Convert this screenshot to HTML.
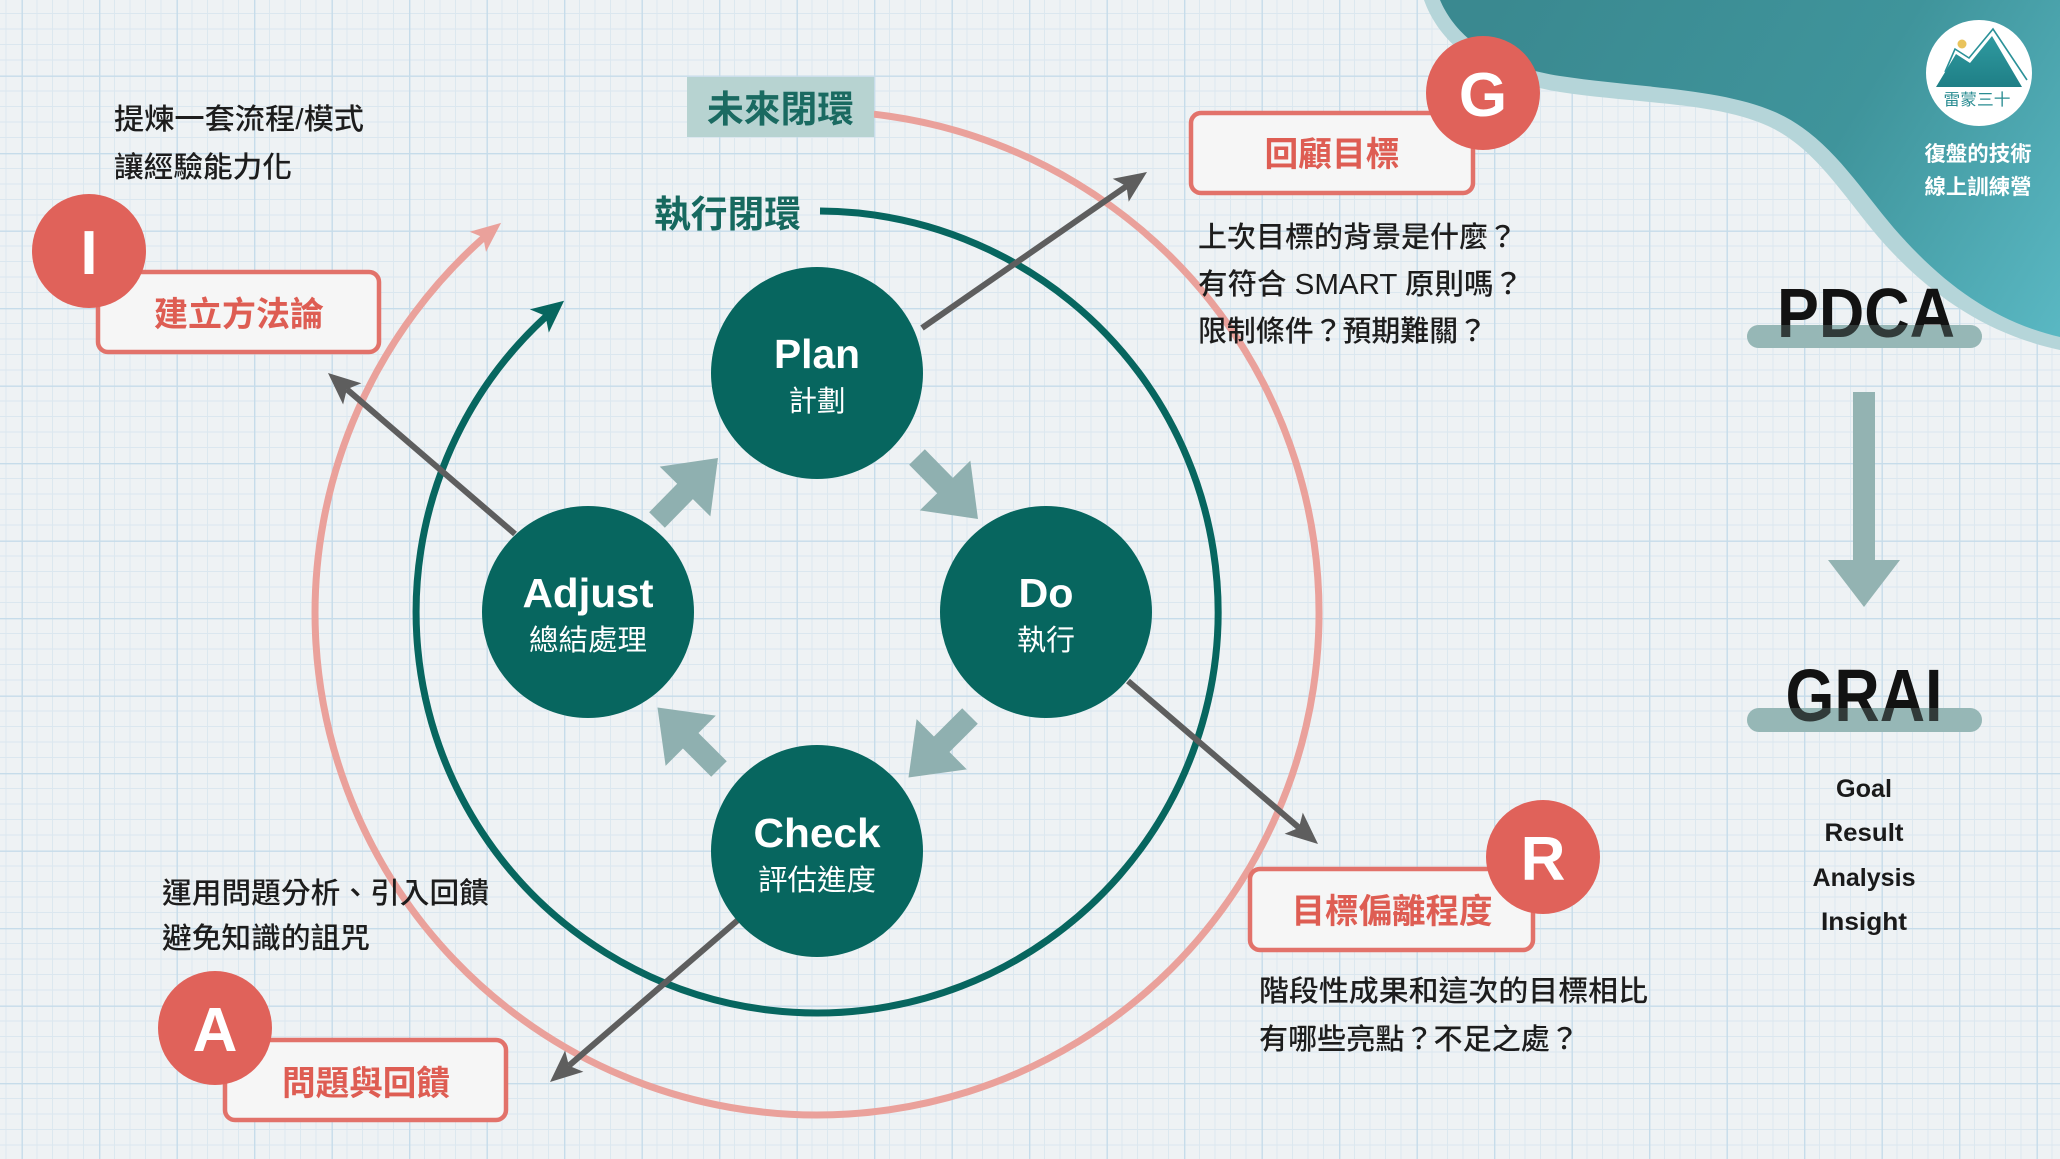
<!DOCTYPE html>
<html><head><meta charset="utf-8">
<style>
html,body{margin:0;padding:0;width:2060px;height:1159px;overflow:hidden;background:#eef2f4}
svg{display:block}
.cjk{font-family:"Liberation Sans","Noto Sans CJK TC",sans-serif}
.lat{font-family:"Liberation Sans",sans-serif}
</style></head>
<body>
<svg width="2060" height="1159" viewBox="0 0 2060 1159" xmlns="http://www.w3.org/2000/svg">
<defs>
  <pattern id="grid" patternUnits="userSpaceOnUse" x="21.5" y="-2" width="77.5" height="77.5">
    <rect width="77.5" height="77.5" fill="#eef2f4"/>
    <g stroke="#dbe7ef" stroke-width="0.9">
      <line x1="15.5" y1="0" x2="15.5" y2="77.5"/><line x1="31" y1="0" x2="31" y2="77.5"/>
      <line x1="46.5" y1="0" x2="46.5" y2="77.5"/><line x1="62" y1="0" x2="62" y2="77.5"/>
      <line y1="15.5" x1="0" y2="15.5" x2="77.5"/><line y1="31" x1="0" y2="31" x2="77.5"/>
      <line y1="46.5" x1="0" y2="46.5" x2="77.5"/><line y1="62" x1="0" y2="62" x2="77.5"/>
    </g>
    <g stroke="#c6dcea" stroke-width="1.4">
      <line x1="0.7" y1="0" x2="0.7" y2="77.5"/><line y1="0.7" x1="0" y2="0.7" x2="77.5"/>
    </g>
  </pattern>
  <linearGradient id="wave" x1="1500" y1="0" x2="2060" y2="340" gradientUnits="userSpaceOnUse">
    <stop offset="0" stop-color="#3a8990"/>
    <stop offset="0.55" stop-color="#3f949b"/>
    <stop offset="1" stop-color="#5ab8c3"/>
  </linearGradient>
  <linearGradient id="mtn" x1="0" y1="0" x2="0" y2="1">
    <stop offset="0" stop-color="#2f9aa0"/>
    <stop offset="1" stop-color="#1f7f86"/>
  </linearGradient>
</defs>

<rect width="2060" height="1159" fill="url(#grid)"/>

<!-- top-right wave -->
<path d="M1424,0 C1440,45 1485,80 1560,92 C1640,104 1715,102 1768,126 C1820,150 1848,205 1890,250 C1935,298 1990,335 2060,350 L2060,0 Z" fill="#b5d5d9"/>
<path d="M1440,0 C1455,35 1490,65 1560,76 C1640,88 1720,88 1775,112 C1830,136 1860,190 1900,235 C1945,285 1995,322 2060,337 L2060,0 Z" fill="url(#wave)"/>

<!-- logo -->
<circle cx="1979" cy="73" r="53" fill="#ffffff"/>
<polygon points="1936,87 1956,54 1970,63 1992,36 2022,87" fill="url(#mtn)"/>
<polyline points="1945,72 1955,49 1969,58 1993,29 2027,80" fill="none" stroke="#2a9198" stroke-width="1.6"/>
<circle cx="1962" cy="44" r="4.5" fill="#e9c35c"/>
<text class="cjk" x="1977" y="105" font-size="16" fill="#2a8c92" text-anchor="middle" textLength="67" lengthAdjust="spacingAndGlyphs">雷蒙三十</text>
<text class="cjk" x="1978" y="161" font-size="21" font-weight="700" fill="#ffffff" text-anchor="middle" textLength="107" lengthAdjust="spacingAndGlyphs">復盤的技術</text>
<text class="cjk" x="1978" y="194" font-size="21" font-weight="700" fill="#ffffff" text-anchor="middle" textLength="107" lengthAdjust="spacingAndGlyphs">線上訓練營</text>

<!-- PDCA / GRAI -->
<rect x="1747" y="325" width="235" height="23" rx="11.5" fill="#98b9b8"/>
<text class="lat" x="1866" y="337" font-size="70" font-weight="700" fill="#121212" text-anchor="middle" textLength="178" lengthAdjust="spacingAndGlyphs">PDCA</text>
<rect x="1747" y="325" width="235" height="23" rx="11.5" fill="#8fb2b1" opacity="0.25"/>
<rect x="1853" y="392" width="22" height="170" fill="#93b3b2"/>
<polygon points="1828,560 1900,560 1864,607" fill="#93b3b2"/>
<rect x="1747" y="708" width="235" height="24" rx="12" fill="#98b9b8"/>
<text class="lat" x="1864" y="721" font-size="74" font-weight="700" fill="#121212" text-anchor="middle" textLength="157" lengthAdjust="spacingAndGlyphs">GRAI</text>
<rect x="1747" y="708" width="235" height="24" rx="12" fill="#8fb2b1" opacity="0.25"/>
<g class="lat" font-size="25" font-weight="700" fill="#1a1a1a" text-anchor="middle">
  <text x="1864" y="797" textLength="56" lengthAdjust="spacingAndGlyphs">Goal</text>
  <text x="1864" y="841" textLength="79" lengthAdjust="spacingAndGlyphs">Result</text>
  <text x="1864" y="886" textLength="103" lengthAdjust="spacingAndGlyphs">Analysis</text>
  <text x="1864" y="930" textLength="86" lengthAdjust="spacingAndGlyphs">Insight</text>
</g>

<!-- outer pink arc -->
<path d="M873.8,114.2 A502,502 0 1 1 484.4,237.0" fill="none" stroke="#eaa19b" stroke-width="7"/>
<polygon points="501.1,222.9 486.0,251.9 483.2,237.4 469.6,231.7" fill="#eaa19b"/>

<!-- inner teal arc -->
<path d="M820,211 A401,401 0 1 1 546.1,316.4" fill="none" stroke="#07665f" stroke-width="7"/>
<polygon points="564.1,300.8 548.8,332.6 545.5,315.9 529.8,309.4" fill="#07665f"/>

<!-- labels for loops -->
<rect x="687" y="77" width="187" height="60" fill="#b7d3d1"/>
<text class="cjk" x="707" y="122" font-size="37" font-weight="700" fill="#1a6a61" textLength="147" lengthAdjust="spacingAndGlyphs">未來閉環</text>
<text class="cjk" x="654" y="227" font-size="37" font-weight="700" fill="#17695f" textLength="147" lengthAdjust="spacingAndGlyphs">執行閉環</text>

<!-- grey diagonal arrows -->
<g stroke="#5e5e5e" stroke-width="6" fill="none">
  <line x1="922" y1="328" x2="1126.5" y2="186.2"/>
  <line x1="1128" y1="681" x2="1299.0" y2="827.7"/>
  <line x1="738" y1="920" x2="568.9" y2="1065.7"/>
  <line x1="515" y1="534" x2="346.9" y2="389.3"/>
</g>
<g fill="#5e5e5e">
  <polygon points="1147,172 1128.7,201.7 1126.5,186.2 1112.7,178.7"/>
  <polygon points="1318,844 1284.6,833.8 1299.0,827.7 1302.8,812.6"/>
  <polygon points="550,1082 565.1,1050.5 568.9,1065.7 583.4,1071.7"/>
  <polygon points="328,373 361.4,383.3 346.9,389.3 343.1,404.5"/>
</g>

<!-- PDCA circles -->
<g fill="#07665f">
  <circle cx="817" cy="373" r="106"/>
  <circle cx="1046" cy="612" r="106"/>
  <circle cx="817" cy="851" r="106"/>
  <circle cx="588" cy="612" r="106"/>
</g>
<g font-weight="700" fill="#ffffff" text-anchor="middle" class="lat" font-size="41">
  <text x="817" y="368" textLength="86" lengthAdjust="spacingAndGlyphs">Plan</text>
  <text x="1046" y="607" textLength="55" lengthAdjust="spacingAndGlyphs">Do</text>
  <text x="817" y="847" textLength="127" lengthAdjust="spacingAndGlyphs">Check</text>
  <text x="588" y="607" textLength="131" lengthAdjust="spacingAndGlyphs">Adjust</text>
</g>
<g fill="#ffffff" text-anchor="middle" class="cjk" font-size="29">
  <text x="817" y="411" textLength="57" lengthAdjust="spacingAndGlyphs">計劃</text>
  <text x="1046" y="650" textLength="58" lengthAdjust="spacingAndGlyphs">執行</text>
  <text x="817" y="890" textLength="118" lengthAdjust="spacingAndGlyphs">評估進度</text>
  <text x="588" y="650" textLength="118" lengthAdjust="spacingAndGlyphs">總結處理</text>
</g>

<!-- block arrows between circles -->
<g fill="#8fb0b0">
  <polygon transform="translate(657,520) rotate(-45.5)" points="0,-11 40,-11 40,-35.5 87,0 40,35.5 40,11 0,11"/>
  <polygon transform="translate(917,457) rotate(45.5)" points="0,-11 40,-11 40,-35.5 87,0 40,35.5 40,11 0,11"/>
  <polygon transform="translate(970,716) rotate(135)" points="0,-11 40,-11 40,-35.5 87,0 40,35.5 40,11 0,11"/>
  <polygon transform="translate(719,769) rotate(-135)" points="0,-11 40,-11 40,-35.5 87,0 40,35.5 40,11 0,11"/>
</g>

<!-- I block -->
<text class="cjk" x="114" y="129" font-size="29" font-weight="500" fill="#1d1d1d" textLength="250" lengthAdjust="spacingAndGlyphs">提煉一套流程/模式</text>
<text class="cjk" x="114" y="177" font-size="29" font-weight="500" fill="#1d1d1d" textLength="178" lengthAdjust="spacingAndGlyphs">讓經驗能力化</text>
<rect x="98" y="272" width="281" height="80" rx="10" fill="#f6f6f6" stroke="#e2726a" stroke-width="4.5"/>
<text class="cjk" x="239" y="326" font-size="34" font-weight="700" fill="#de5d53" text-anchor="middle" textLength="170" lengthAdjust="spacingAndGlyphs">建立方法論</text>
<circle cx="89" cy="251" r="57" fill="#e0625a"/>
<text class="lat" x="89" y="274" font-size="62" font-weight="700" fill="#ffffff" text-anchor="middle">I</text>

<!-- G block -->
<rect x="1191" y="113" width="282" height="80" rx="10" fill="#f6f6f6" stroke="#e2726a" stroke-width="4.5"/>
<text class="cjk" x="1332" y="166" font-size="34" font-weight="700" fill="#de5d53" text-anchor="middle" textLength="135" lengthAdjust="spacingAndGlyphs">回顧目標</text>
<circle cx="1483" cy="93" r="57" fill="#e0625a"/>
<text class="lat" x="1483" y="116" font-size="62" font-weight="700" fill="#ffffff" text-anchor="middle">G</text>
<g class="cjk" font-size="29" font-weight="500" fill="#1d1d1d">
  <text x="1198" y="247" textLength="319" lengthAdjust="spacingAndGlyphs">上次目標的背景是什麼？</text>
  <text x="1198" y="294" textLength="325" lengthAdjust="spacingAndGlyphs">有符合 SMART 原則嗎？</text>
  <text x="1198" y="341" textLength="289" lengthAdjust="spacingAndGlyphs">限制條件？預期難關？</text>
</g>

<!-- R block -->
<rect x="1250" y="869" width="283" height="81" rx="10" fill="#f6f6f6" stroke="#e2726a" stroke-width="4.5"/>
<text class="cjk" x="1392" y="923" font-size="34" font-weight="700" fill="#de5d53" text-anchor="middle" textLength="201" lengthAdjust="spacingAndGlyphs">目標偏離程度</text>
<circle cx="1543" cy="857" r="57" fill="#e0625a"/>
<text class="lat" x="1543" y="880" font-size="62" font-weight="700" fill="#ffffff" text-anchor="middle">R</text>
<g class="cjk" font-size="29" font-weight="500" fill="#1d1d1d">
  <text x="1259" y="1001" textLength="389" lengthAdjust="spacingAndGlyphs">階段性成果和這次的目標相比</text>
  <text x="1259" y="1049" textLength="320" lengthAdjust="spacingAndGlyphs">有哪些亮點？不足之處？</text>
</g>

<!-- A block -->
<g class="cjk" font-size="29" font-weight="500" fill="#1d1d1d">
  <text x="162" y="903" textLength="327" lengthAdjust="spacingAndGlyphs">運用問題分析、引入回饋</text>
  <text x="162" y="948" textLength="208" lengthAdjust="spacingAndGlyphs">避免知識的詛咒</text>
</g>
<rect x="225" y="1040" width="281" height="80" rx="10" fill="#f6f6f6" stroke="#e2726a" stroke-width="4.5"/>
<text class="cjk" x="366" y="1095" font-size="34" font-weight="700" fill="#de5d53" text-anchor="middle" textLength="168" lengthAdjust="spacingAndGlyphs">問題與回饋</text>
<circle cx="215" cy="1028" r="57" fill="#e0625a"/>
<text class="lat" x="215" y="1051" font-size="62" font-weight="700" fill="#ffffff" text-anchor="middle">A</text>
</svg>
</body></html>
